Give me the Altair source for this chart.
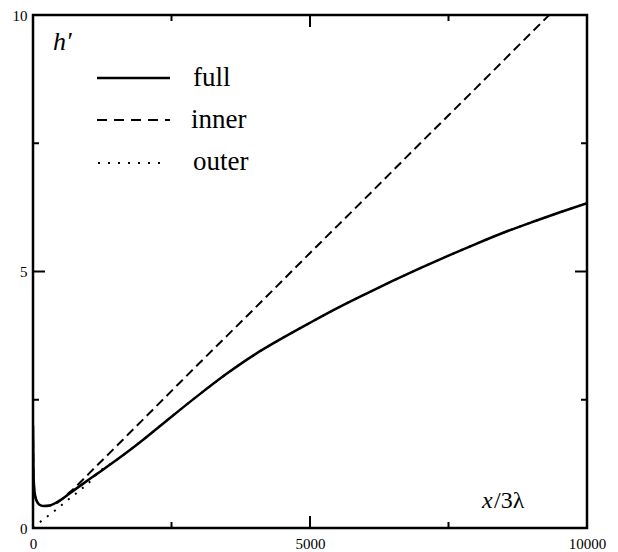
import altair as alt
import pandas as pd

# ---- data ----
x_full = [0, 8, 20, 40, 70, 110, 186, 307, 487, 667, 900, 1148, 1500, 1750, 2000,
          2500, 3000, 3500, 4000, 4500, 5000, 5500, 6000, 6500, 7000, 7500, 8000,
          8500, 9000, 9500, 10000]
h_full = [2.0, 1.1, 0.8, 0.62, 0.52, 0.46, 0.43, 0.44, 0.54, 0.68, 0.86, 1.05, 1.32,
          1.52, 1.73, 2.17, 2.60, 3.01, 3.38, 3.70, 4.00, 4.29, 4.56, 4.82, 5.07,
          5.31, 5.54, 5.76, 5.96, 6.15, 6.33]

x_inner = [0, 8, 20, 40, 70, 110, 186, 307, 450, 667, 1148, 2000, 3000, 4000, 5000,
           6000, 7000, 8000, 9000, 10000]
h_inner = [2.0, 1.1, 0.8, 0.62, 0.52, 0.46, 0.43, 0.44, 0.50, 0.70, 1.21, 2.13, 3.21,
           4.28, 5.36, 6.43, 7.51, 8.58, 9.66, 10.73]

x_outer = [0, 96, 216, 337, 487, 607, 727, 848, 998, 1148, 1500, 1750, 2000, 2500,
           3000, 3500, 4000, 4500, 5000, 5500, 6000, 6500, 7000, 7500, 8000, 8500,
           9000, 9500, 10000]
h_outer = [0.0, 0.09, 0.19, 0.29, 0.42, 0.53, 0.63, 0.74, 0.87, 1.05, 1.32, 1.52,
           1.73, 2.17, 2.60, 3.01, 3.38, 3.70, 4.00, 4.29, 4.56, 4.82, 5.07, 5.31,
           5.54, 5.76, 5.96, 6.15, 6.33]

x_labels = [0, 5000, 10000]
y_labels = [0, 5, 10]
x_major = [5000]
x_minor = [2500, 7500]
y_major = [5]
y_minor = [2.5, 7.5]

legend_names = ["full", "inner", "outer"]

W, H = 554, 513
FONT = "Liberation Serif, serif"

xs = alt.Scale(domain=[0, 10000], nice=False, zero=False)
ys = alt.Scale(domain=[0, 10], nice=False, zero=False)

xaxis = alt.Axis(values=x_labels, ticks=False, domain=False, grid=False, title=None,
                 labelFlush=False, labelPadding=8, labelFont=FONT, labelFontSize=15,
                 labelColor="black", format="d")
yaxis = alt.Axis(values=y_labels, ticks=False, domain=False, grid=False, title=None,
                 labelPadding=6, labelFont=FONT, labelFontSize=15, labelColor="black",
                 format="d")


def line(xv, hv, **kw):
    df = pd.DataFrame({"x": xv, "h": hv})
    return alt.Chart(df).mark_line(clip=True, color="black", interpolate="monotone", **kw).encode(
        x=alt.X("x:Q", scale=xs, axis=xaxis),
        y=alt.Y("h:Q", scale=ys, axis=yaxis),
    )


outer = line(x_outer, h_outer, strokeWidth=2, strokeDash=[2, 7])
inner = line(x_inner, h_inner, strokeWidth=2, strokeDash=[9, 5])
full = line(x_full, h_full, strokeWidth=2.5)


def xticks(vals, length):
    df = pd.DataFrame({"v": vals})
    b = alt.Chart(df).mark_rule(color="black", strokeWidth=2).encode(
        x=alt.X("v:Q", scale=xs), y=alt.value(H), y2=alt.value(H - length))
    t = alt.Chart(df).mark_rule(color="black", strokeWidth=2).encode(
        x=alt.X("v:Q", scale=xs), y=alt.value(0), y2=alt.value(length))
    return b + t


def yticks(vals, length):
    df = pd.DataFrame({"v": vals})
    l = alt.Chart(df).mark_rule(color="black", strokeWidth=2).encode(
        y=alt.Y("v:Q", scale=ys), x=alt.value(0), x2=alt.value(length))
    r = alt.Chart(df).mark_rule(color="black", strokeWidth=2).encode(
        y=alt.Y("v:Q", scale=ys), x=alt.value(W), x2=alt.value(W - length))
    return l + r


ticks = xticks(x_major, 12) + xticks(x_minor, 6) + yticks(y_major, 12) + yticks(y_minor, 6)

base = alt.Chart(pd.DataFrame({"a": [0]}))

frame = base.mark_rect(fill=None, stroke="black", strokeWidth=2.5).encode(
    x=alt.value(0), x2=alt.value(W), y=alt.value(0), y2=alt.value(H))

leg_full = base.mark_rule(color="black", strokeWidth=2.5).encode(
    x=alt.value(64), x2=alt.value(137), y=alt.value(63))
leg_inner = base.mark_rule(color="black", strokeWidth=2, strokeDash=[10, 7]).encode(
    x=alt.value(64), x2=alt.value(137), y=alt.value(105))
leg_outer = base.mark_rule(color="black", strokeWidth=2, strokeDash=[2, 8]).encode(
    x=alt.value(65), x2=alt.value(130), y=alt.value(148))

txt_kw = dict(font=FONT, fontSize=27, color="black", align="left", baseline="alphabetic")
t_full = base.mark_text(text=legend_names[0], **txt_kw).encode(x=alt.value(160), y=alt.value(71))
t_inner = base.mark_text(text=legend_names[1], **txt_kw).encode(x=alt.value(158), y=alt.value(113))
t_outer = base.mark_text(text=legend_names[2], **txt_kw).encode(x=alt.value(160), y=alt.value(155))

h_lab = base.mark_text(text="h′", font=FONT, fontSize=26, fontStyle="italic", color="black",
                       align="left", baseline="alphabetic").encode(x=alt.value(20), y=alt.value(35))
x_lab1 = base.mark_text(text="x", font=FONT, fontSize=24, fontStyle="italic", color="black",
                        align="left", baseline="alphabetic").encode(x=alt.value(449), y=alt.value(493))
x_lab2 = base.mark_text(text="/3λ", font=FONT, fontSize=24, color="black",
                        align="left", baseline="alphabetic").encode(x=alt.value(461), y=alt.value(493))

chart = alt.layer(
    outer, inner, full, ticks, frame,
    leg_full, leg_inner, leg_outer, t_full, t_inner, t_outer,
    h_lab, x_lab1, x_lab2,
).properties(
    width=W, height=H,
    autosize="none",
    padding={"left": 25, "top": 7, "right": 22, "bottom": 22},
).configure_view(
    stroke=None
).configure(background="white")

chart.save("out.html", embed_options={"renderer": "svg", "actions": False})
